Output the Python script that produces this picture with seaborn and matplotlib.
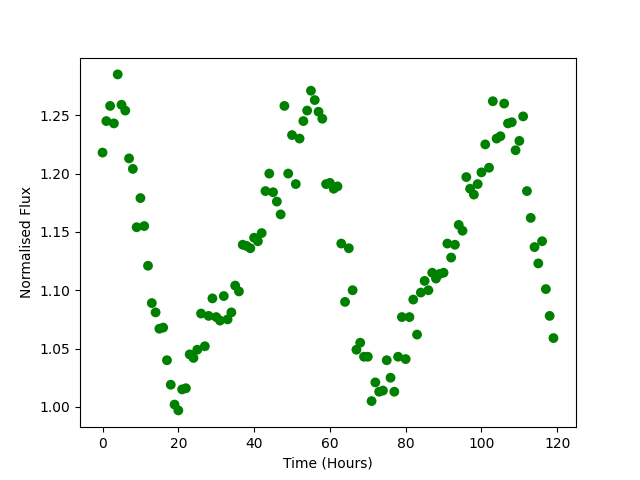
import matplotlib
matplotlib.use("Agg")
import matplotlib.pyplot as plt
import seaborn as sns
import pandas as pd

# -- datos
hours = list(range(120))
flux = [1.218, 1.245, 1.258, 1.243, 1.285, 1.259, 1.254, 1.213, 1.204, 1.154,
        1.179, 1.155, 1.121, 1.089, 1.081, 1.067, 1.068, 1.040, 1.019, 1.002,
        0.997, 1.015, 1.016, 1.045, 1.042, 1.049, 1.080, 1.052, 1.078, 1.093,
        1.077, 1.074, 1.095, 1.075, 1.081, 1.104, 1.099, 1.139, 1.138, 1.136,
        1.145, 1.142, 1.149, 1.185, 1.200, 1.184, 1.176, 1.165, 1.258, 1.200,
        1.233, 1.191, 1.230, 1.245, 1.254, 1.271, 1.263, 1.253, 1.247, 1.191,
        1.192, 1.187, 1.189, 1.140, 1.090, 1.136, 1.100, 1.049, 1.055, 1.043,
        1.043, 1.005, 1.021, 1.013, 1.014, 1.040, 1.025, 1.013, 1.043, 1.077,
        1.041, 1.077, 1.092, 1.062, 1.098, 1.108, 1.100, 1.115, 1.110, 1.114,
        1.115, 1.140, 1.128, 1.139, 1.156, 1.151, 1.197, 1.187, 1.182, 1.191,
        1.201, 1.225, 1.205, 1.262, 1.230, 1.232, 1.260, 1.243, 1.244, 1.220,
        1.228, 1.249, 1.185, 1.162, 1.137, 1.123, 1.142, 1.101, 1.078, 1.059]

df = pd.DataFrame({'time': hours, 'flux': flux})

fig, ax = plt.subplots(figsize=(6.4, 4.8), dpi=100)
sns.scatterplot(data=df, x='time', y='flux', color='green', s=50,
                edgecolor='none', ax=ax)
ax.set_xlabel('Time (Hours)')
ax.set_ylabel('Normalised Flux')
fig.savefig('out.png')
